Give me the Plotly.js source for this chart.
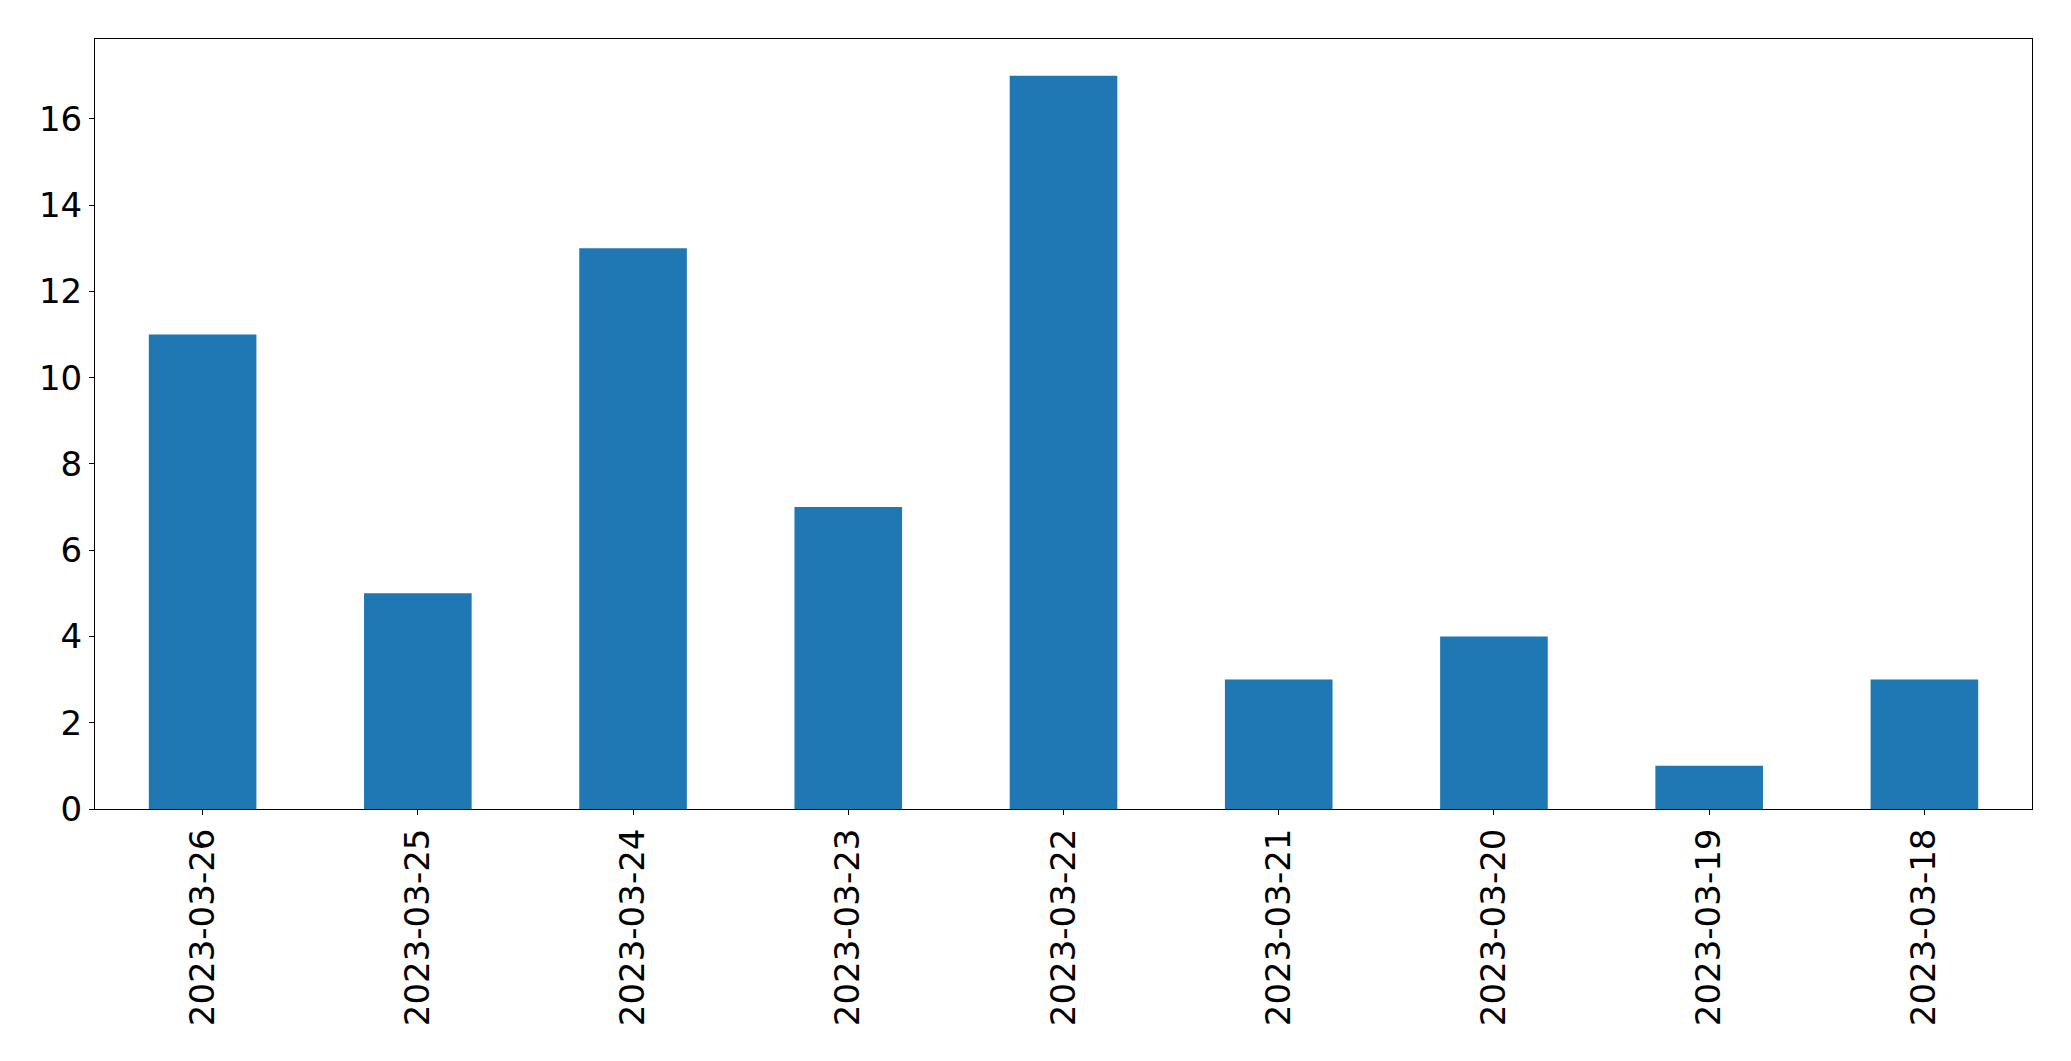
<!DOCTYPE html>
<html>
<head>
<meta charset="utf-8">
<script src="https://cdn.plot.ly/plotly-3.0.1.min.js"></script>
<style>html,body{margin:0;padding:0;background:#fff;}#chart{width:2071px;height:1061px;}</style>
</head>
<body>
<div id="chart"></div>
<script>
const dates = ["2023-03-26","2023-03-25","2023-03-24","2023-03-23","2023-03-22","2023-03-21","2023-03-20","2023-03-19","2023-03-18"];
const counts = [11, 5, 13, 7, 17, 3, 4, 1, 3];
const yTicks = [0, 2, 4, 6, 8, 10, 12, 14, 16];

const trace = {
  type: "bar",
  x: dates,
  y: counts,
  width: 0.5,
  marker: {color: "#1f77b4", line: {width: 0}},
  hoverinfo: "x+y"
};

const layout = {
  width: 2071,
  height: 1061,
  margin: {l: 95, r: 39, t: 39, b: 252, pad: 0},
  paper_bgcolor: "#fff",
  plot_bgcolor: "#fff",
  showlegend: false,
  font: {family: "DejaVu Sans", size: 34, color: "#000"},
  xaxis: {
    type: "category",
    range: [-0.5, 8.5],
    tickangle: -90,
    showline: true, mirror: true, linecolor: "#000", linewidth: 1,
    ticks: "outside", ticklen: 5, tickwidth: 1, tickcolor: "#000",
    showgrid: false, zeroline: false,
    ticklabelstandoff: 0,
    tickfont: {family: "DejaVu Sans", size: 34, color: "#000"}
  },
  yaxis: {
    range: [0, 17.85],
    tickvals: yTicks,
    ticktext: yTicks.map(String),
    showline: true, mirror: true, linecolor: "#000", linewidth: 1,
    ticks: "outside", ticklen: 5, tickwidth: 1, tickcolor: "#000",
    showgrid: false, zeroline: false,
    ticklabelstandoff: 0,
    tickfont: {family: "DejaVu Sans", size: 34, color: "#000"}
  }
};

Plotly.newPlot("chart", [trace], layout, {displayModeBar: false, staticPlot: true});
</script>
</body>
</html>
